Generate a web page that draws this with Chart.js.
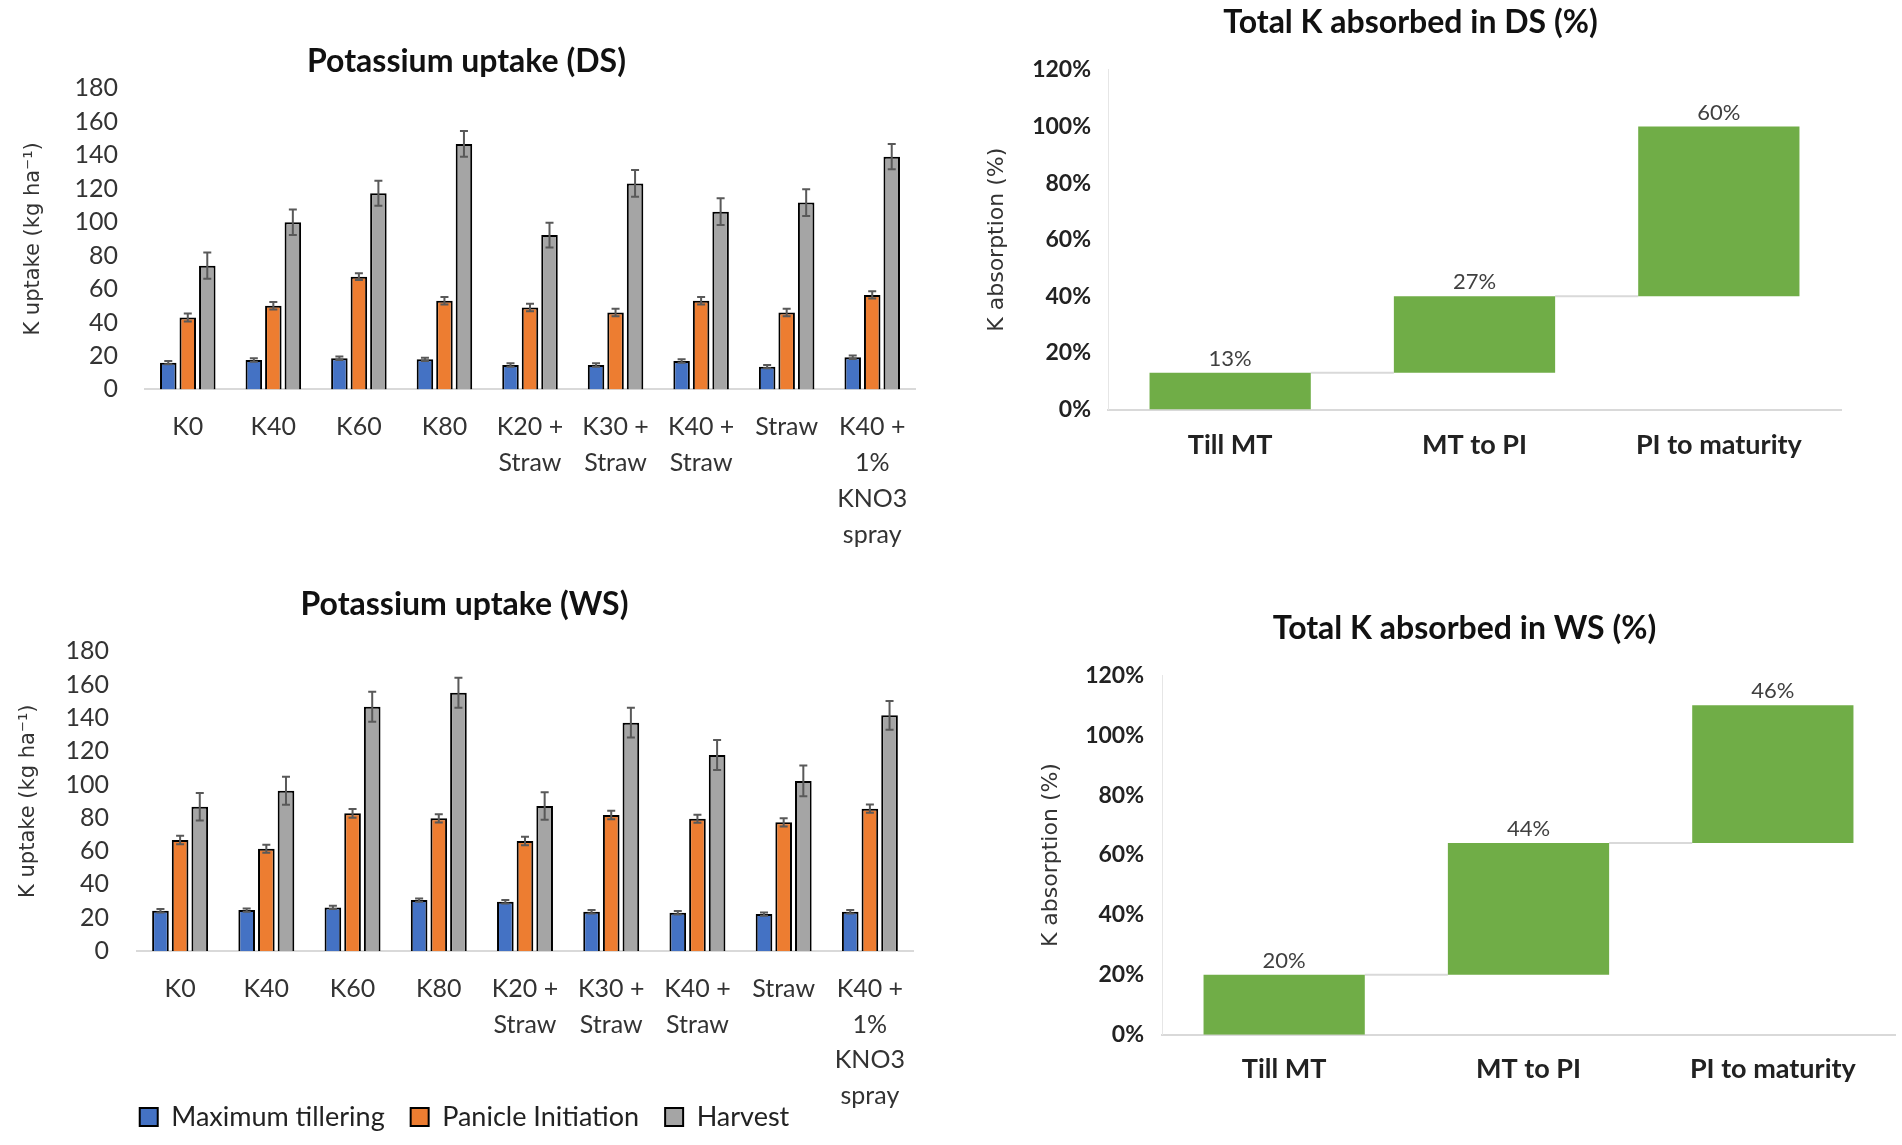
<!DOCTYPE html>
<html>
<head>
<meta charset="utf-8">
<script src="https://cdn.jsdelivr.net/npm/chart.js@4.4.0/dist/chart.umd.min.js"></script>
<style>
  html, body { margin: 0; padding: 0; background: #fff; overflow: hidden; }
  .box { position: absolute; }
</style>
</head>
<body>
<div class="box" style="left:0;top:0;width:940px;height:560px"><canvas id="dsBar"></canvas></div>
<div class="box" style="left:0;top:580px;width:940px;height:565px"><canvas id="wsBar"></canvas></div>
<div class="box" style="left:970px;top:0;width:932px;height:560px"><canvas id="dsStep"></canvas></div>
<div class="box" style="left:1020px;top:580px;width:882px;height:565px"><canvas id="wsStep"></canvas></div>
<script>
// treatments on the x axis of both uptake charts
const treatments = ['K0', 'K40', 'K60', 'K80', ['K20 +', 'Straw'], ['K30 +', 'Straw'],
                    ['K40 +', 'Straw'], 'Straw', ['K40 +', '1%', 'KNO3', 'spray']];
const stageNames = ['Maximum tillering', 'Panicle Initiation', 'Harvest'];
const stageColors = ['#4472C4', '#ED7D31', '#A5A5A5'];

// dry season uptake, kg/ha
const dsTillering = [16, 17.6, 18.6, 18, 14.6, 14.6, 17, 13.6, 19.2];
const dsPanicle   = [43, 50, 67.4, 53, 49, 46, 53, 46, 56.5];
const dsHarvest   = [74, 100, 117.3, 146.8, 92.3, 123.2, 106.3, 111.7, 139.2];
const dsTilleringErr = [1, 1, 1, 1, 1, 1, 1, 1, 1];
const dsPanicleErr   = [2.4, 2.2, 2, 2.3, 2.2, 2.2, 2.3, 2.2, 2.2];
const dsHarvestErr   = [7.8, 7.6, 7.5, 7.7, 7.4, 8, 8, 8, 7.6];

// wet season uptake, kg/ha
const wsTillering = [24.2, 24.6, 26.2, 30.6, 29.6, 23.6, 23, 22.2, 23.6];
const wsPanicle   = [66.7, 61.5, 82.7, 79.7, 66.1, 81.7, 79.5, 77.3, 85.5];
const wsHarvest   = [86.7, 96.3, 146.8, 155.2, 87.1, 137.2, 117.8, 102.2, 141.6];
const wsTilleringErr = [1, 1, 1, 1, 1, 1, 1, 1, 1];
const wsPanicleErr   = [2.5, 2.4, 2.6, 2.5, 2.5, 2.5, 2.4, 2.5, 2.5];
const wsHarvestErr   = [8.3, 8.4, 9, 9, 8.3, 9, 9, 9.2, 8.6];

const uptakeMax = 180;
const uptakeStep = 20;

// share of total K absorbed per growth phase, %
const phases = ['Till MT', 'MT to PI', 'PI to maturity'];
const dsShare = [13, 27, 60];
const wsShare = [20, 44, 46];
const shareMax = 120;
const shareStep = 20;

Chart.defaults.font.family = 'Lato';
Chart.defaults.color = '#333';
Chart.defaults.animation = false;

const fixW = w => s => { s.width = w };
const fixH = h => s => { s.height = h };

const errorBars = {
    id: 'errorBars',
    beforeDraw(chart) {
        // the legend sits beside the tall last label, so don't clip x labels to the axis box
        chart.scales.x._computeLabelArea = () => undefined;
    },
    afterDatasetsDraw(chart) {
        const ctx = chart.ctx, y = chart.scales.y;
        chart.data.datasets.forEach((ds, i) => {
            chart.getDatasetMeta(i).data.forEach((bar, j) => {
                const v = ds.data[j], e = ds.errors[j];
                const top = y.getPixelForValue(v + e), bot = y.getPixelForValue(v - e);
                ctx.save();
                ctx.strokeStyle = '#595959';
                ctx.lineWidth = 2;
                ctx.beginPath();
                ctx.moveTo(bar.x, top); ctx.lineTo(bar.x, bot);
                ctx.moveTo(bar.x - 4, top); ctx.lineTo(bar.x + 4, top);
                ctx.moveTo(bar.x - 4, bot); ctx.lineTo(bar.x + 4, bot);
                ctx.stroke();
                ctx.restore();
            });
        });
    }
};

function uptakeChart(id, title, series, errs, o) {
    return new Chart(document.getElementById(id), {
        type: 'bar',
        data: {
            labels: treatments,
            datasets: series.map((d, i) => ({
                label: stageNames[i],
                data: d,
                errors: errs[i],
                backgroundColor: stageColors[i],
                borderColor: '#000',
                borderWidth: 2,
                categoryPercentage: 0.684,
                barPercentage: 0.846
            }))
        },
        options: {
            responsive: true,
            maintainAspectRatio: false,
            layout: { padding: o.pad },
            plugins: {
                title: { display: true, text: title, color: '#111', font: { size: 32, weight: 'bold' }, padding: o.titlePad },
                legend: o.legend ? {
                    display: true,
                    position: 'bottom',
                    labels: { boxWidth: 18, boxHeight: 18, padding: 26, color: '#222', font: { size: 27 } }
                } : { display: false },
                tooltip: { enabled: false }
            },
            scales: {
                x: {
                    grid: { display: false, drawTicks: false },
                    border: { color: '#d9d9d9', width: 2 },
                    ticks: { autoSkip: false, maxRotation: 0, padding: 20, color: '#333', font: { size: 25, lineHeight: 1.43 } },
                    afterFit: fixH(o.xH)
                },
                y: {
                    min: 0, max: uptakeMax,
                    grid: { display: false, drawTicks: false },
                    border: { display: false },
                    ticks: { stepSize: uptakeStep, padding: o.yTickPad, color: '#333', font: { size: 25 } },
                    title: { display: true, text: 'K uptake (kg ha⁻¹)', color: '#333', font: { family: 'DejaVu Sans', size: 21 }, padding: { top: o.yTitlePad, bottom: 0 } },
                    afterFit: fixW(o.yW)
                }
            }
        },
        plugins: [errorBars]
    });
}

function cumulative(shares) {
    let s = 0;
    return shares.map(v => { const a = s; s += v; return [a, s]; });
}

const stepDecor = {
    id: 'stepDecor',
    beforeDatasetsDraw(chart) {
        const ctx = chart.ctx, bars = chart.getDatasetMeta(0).data;
        ctx.save();
        ctx.strokeStyle = '#d9d9d9';
        ctx.lineWidth = 2;
        for (let i = 0; i < bars.length - 1; i++) {
            ctx.beginPath();
            ctx.moveTo(bars[i].x + bars[i].width / 2, bars[i].y);
            ctx.lineTo(bars[i + 1].x - bars[i + 1].width / 2, bars[i].y);
            ctx.stroke();
        }
        ctx.restore();
    },
    afterDatasetsDraw(chart) {
        const ctx = chart.ctx, ds = chart.data.datasets[0];
        ctx.save();
        ctx.fillStyle = '#404040';
        ctx.font = '22px Lato';
        ctx.textAlign = 'center';
        ctx.textBaseline = 'middle';
        chart.getDatasetMeta(0).data.forEach((bar, i) => {
            ctx.fillText(ds.shares[i] + '%', bar.x, bar.y - 14);
        });
        ctx.restore();
    }
};

function shareChart(id, title, shares, o) {
    return new Chart(document.getElementById(id), {
        type: 'bar',
        data: {
            labels: phases,
            datasets: [{
                data: cumulative(shares),
                shares: shares,
                backgroundColor: '#70AD47',
                borderWidth: 0,
                categoryPercentage: 1,
                barPercentage: 0.66
            }]
        },
        options: {
            responsive: true,
            maintainAspectRatio: false,
            layout: { padding: o.pad },
            plugins: {
                title: { display: true, text: title, color: '#111', font: { size: 32, weight: 'bold' }, padding: o.titlePad },
                legend: { display: false },
                tooltip: { enabled: false }
            },
            scales: {
                x: {
                    grid: { display: false, drawTicks: false },
                    border: { color: '#d9d9d9', width: 2 },
                    ticks: { padding: o.xTickPad, color: '#222', font: { size: 27, weight: 'bold' } },
                    afterFit: fixH(o.xH)
                },
                y: {
                    min: 0, max: shareMax,
                    grid: { display: false, drawTicks: false },
                    border: { color: '#e6e6e6', width: 1 },
                    ticks: { stepSize: shareStep, padding: o.yTickPad, color: '#222', font: { size: 23, weight: 'bold' }, callback: v => v + '%' },
                    title: { display: true, text: 'K absorption (%)', color: '#333', font: { family: 'DejaVu Sans', size: 22 }, padding: { top: o.yTitlePad, bottom: 0 } },
                    afterFit: fixW(o.yW)
                }
            }
        },
        plugins: [stepDecor]
    });
}

uptakeChart('dsBar', 'Potassium uptake (DS)',
    [dsTillering, dsPanicle, dsHarvest], [dsTilleringErr, dsPanicleErr, dsHarvestErr],
    { pad: { left: 18, right: 25, top: 0, bottom: 0 }, titlePad: { top: 42, bottom: 8 },
      yW: 127, yTickPad: 27, yTitlePad: 3, xH: 170.6, legend: false });

uptakeChart('wsBar', 'Potassium uptake (WS)',
    [wsTillering, wsPanicle, wsHarvest], [wsTilleringErr, wsPanicleErr, wsHarvestErr],
    { pad: { left: 16, right: 27, top: 0, bottom: 4.5 }, titlePad: { top: 5, bottom: 28 },
      yW: 121, yTickPad: 28, yTitlePad: 0, xH: 126.5, legend: true });

shareChart('dsStep', 'Total K absorbed in DS (%)', dsShare,
    { pad: { left: 10, right: 61, top: 0, bottom: 0 }, titlePad: { top: 3, bottom: 28.5 },
      yW: 128, yTickPad: 17, yTitlePad: 4, xH: 150.5, xTickPad: 20 });

shareChart('wsStep', 'Total K absorbed in WS (%)', wsShare,
    { pad: { left: 14, right: 7, top: 0, bottom: 0 }, titlePad: { top: 29, bottom: 28 },
      yW: 128, yTickPad: 18, yTitlePad: 4, xH: 110.3, xTickPad: 18 });
</script>
</body>
</html>
